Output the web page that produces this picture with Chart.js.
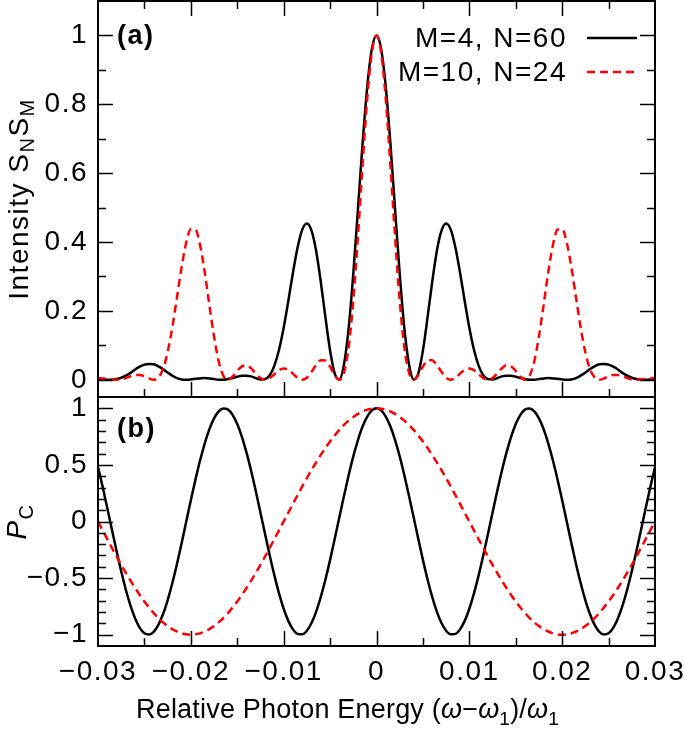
<!DOCTYPE html>
<html>
<head>
<meta charset="utf-8">
<script src="https://cdn.jsdelivr.net/npm/chart.js@4.4.1/dist/chart.umd.min.js"></script>
<style>
html,body{margin:0;padding:0;background:#fff;}
#wrap{width:685px;height:729px;position:relative;}
canvas{display:block;}
</style>
</head>
<body>
<div id="wrap"><canvas id="c" width="685" height="729"></canvas></div>
<script>
// ---------------- data ----------------
const energy = [
-0.0300,-0.0295,-0.0290,-0.0285,-0.0280,-0.0275,-0.0270,-0.0265,-0.0260,-0.0255,
-0.0250,-0.0245,-0.0240,-0.0235,-0.0230,-0.0225,-0.0220,-0.0215,-0.0210,-0.0205,
-0.0200,-0.0195,-0.0190,-0.0185,-0.0180,-0.0175,-0.0170,-0.0165,-0.0160,-0.0155,
-0.0150,-0.0145,-0.0140,-0.0135,-0.0130,-0.0125,-0.0120,-0.0115,-0.0110,-0.0105,
-0.0100,-0.0095,-0.0090,-0.0085,-0.0080,-0.0075,-0.0070,-0.0065,-0.0060,-0.0055,
-0.0050,-0.0045,-0.0040,-0.0035,-0.0030,-0.0025,-0.0020,-0.0015,-0.0010,-0.0005,
0,
0.0005,0.0010,0.0015,0.0020,0.0025,0.0030,0.0035,0.0040,0.0045,0.0050,
0.0055,0.0060,0.0065,0.0070,0.0075,0.0080,0.0085,0.0090,0.0095,0.0100,
0.0105,0.0110,0.0115,0.0120,0.0125,0.0130,0.0135,0.0140,0.0145,0.0150,
0.0155,0.0160,0.0165,0.0170,0.0175,0.0180,0.0185,0.0190,0.0195,0.0200,
0.0205,0.0210,0.0215,0.0220,0.0225,0.0230,0.0235,0.0240,0.0245,0.0250,
0.0255,0.0260,0.0265,0.0270,0.0275,0.0280,0.0285,0.0290,0.0295,0.0300];

// panel (a): intensity S_N S_M
const intensityM4N60 = [
0.003,0.001,0.000,0.000,0.002,0.006,0.012,0.020,0.030,0.038,
0.044,0.046,0.045,0.039,0.031,0.021,0.012,0.005,0.001,0.000,
0.001,0.003,0.004,0.005,0.004,0.002,0.000,0.000,0.002,0.005,
0.009,0.012,0.012,0.010,0.005,0.001,0.002,0.013,0.041,0.087,
0.151,0.229,0.311,0.384,0.436,0.454,0.433,0.374,0.284,0.181,
0.085,0.018,0.001,0.045,0.150,0.308,0.495,0.686,0.850,0.961,
1.000,
0.961,0.850,0.686,0.495,0.308,0.150,0.045,0.001,0.018,0.085,
0.181,0.284,0.374,0.433,0.454,0.436,0.384,0.311,0.229,0.151,
0.087,0.041,0.013,0.002,0.001,0.005,0.010,0.012,0.012,0.009,
0.005,0.002,0.000,0.000,0.002,0.004,0.005,0.004,0.003,0.001,
0.000,0.001,0.005,0.012,0.021,0.031,0.039,0.045,0.046,0.044,
0.038,0.030,0.020,0.012,0.006,0.002,0.000,0.000,0.001,0.003];

const intensityM10N24 = [
0.005,0.004,0.003,0.001,0.000,0.001,0.005,0.010,0.014,0.014,
0.010,0.004,0.000,0.007,0.031,0.080,0.151,0.238,0.326,0.398,
0.438,0.436,0.391,0.312,0.217,0.126,0.054,0.012,0.000,0.009,
0.026,0.039,0.042,0.033,0.018,0.005,0.000,0.005,0.016,0.028,
0.033,0.029,0.018,0.005,0.000,0.006,0.023,0.043,0.057,0.056,
0.038,0.013,0.000,0.021,0.095,0.230,0.416,0.624,0.816,0.951,
1.000,
0.951,0.816,0.624,0.416,0.230,0.095,0.021,0.000,0.013,0.038,
0.056,0.057,0.043,0.023,0.006,0.000,0.005,0.018,0.029,0.033,
0.028,0.016,0.005,0.000,0.005,0.018,0.033,0.042,0.039,0.026,
0.009,0.000,0.012,0.054,0.126,0.217,0.312,0.391,0.436,0.438,
0.398,0.326,0.238,0.151,0.080,0.031,0.007,0.000,0.004,0.010,
0.014,0.014,0.010,0.005,0.001,0.000,0.001,0.003,0.004,0.005];

// panel (b): P_C
const pcM4N60 = [
0.482,0.306,0.119,-0.072,-0.261,-0.440,-0.603,-0.744,-0.857,-0.940,
-0.988,-0.999,-0.975,-0.914,-0.820,-0.696,-0.546,-0.377,-0.194,-0.003,
0.187,0.371,0.541,0.691,0.816,0.911,0.973,0.999,0.989,0.942,
0.861,0.748,0.608,0.446,0.267,0.078,-0.113,-0.300,-0.476,-0.635,
-0.771,-0.878,-0.953,-0.993,-0.997,-0.965,-0.897,-0.796,-0.666,-0.512,
-0.339,-0.153,0.038,0.227,0.409,0.576,0.720,0.839,0.927,0.982,
1.000,
0.982,0.927,0.839,0.720,0.576,0.409,0.227,0.038,-0.153,-0.339,
-0.512,-0.666,-0.796,-0.897,-0.965,-0.997,-0.993,-0.953,-0.878,-0.771,
-0.635,-0.476,-0.300,-0.113,0.078,0.267,0.446,0.608,0.748,0.861,
0.942,0.989,0.999,0.973,0.911,0.816,0.691,0.541,0.371,0.187,
-0.003,-0.194,-0.377,-0.546,-0.696,-0.820,-0.914,-0.975,-0.999,-0.988,
-0.940,-0.857,-0.744,-0.603,-0.440,-0.261,-0.072,0.119,0.306,0.482];

const pcM10N24 = [
0.000,-0.078,-0.156,-0.233,-0.309,-0.383,-0.454,-0.522,-0.588,-0.649,
-0.707,-0.760,-0.809,-0.853,-0.891,-0.924,-0.951,-0.972,-0.988,-0.997,
-1.000,-0.997,-0.988,-0.972,-0.951,-0.924,-0.891,-0.853,-0.809,-0.760,
-0.707,-0.649,-0.588,-0.522,-0.454,-0.383,-0.309,-0.233,-0.156,-0.078,
0.000,0.078,0.156,0.233,0.309,0.383,0.454,0.522,0.588,0.649,
0.707,0.760,0.809,0.853,0.891,0.924,0.951,0.972,0.988,0.997,
1.000,
0.997,0.988,0.972,0.951,0.924,0.891,0.853,0.809,0.760,0.707,
0.649,0.588,0.522,0.454,0.383,0.309,0.233,0.156,0.078,0.000,
-0.078,-0.156,-0.233,-0.309,-0.383,-0.454,-0.522,-0.588,-0.649,-0.707,
-0.760,-0.809,-0.853,-0.891,-0.924,-0.951,-0.972,-0.988,-0.997,-1.000,
-0.997,-0.988,-0.972,-0.951,-0.924,-0.891,-0.853,-0.809,-0.760,-0.707,
-0.649,-0.588,-0.522,-0.454,-0.383,-0.309,-0.233,-0.156,-0.078,0.000];

const seriesLabels = ['M=4, N=60', 'M=10, N=24'];
const xTickLabels = [-0.03, -0.02, -0.01, 0, 0.01, 0.02, 0.03];
const intensityTickLabels = [0, 0.2, 0.4, 0.6, 0.8, 1];
const pcTickLabels = [-1, -0.5, 0, 0.5, 1];
const panelLabels = ['(a)', '(b)'];

// ---------------- styling ----------------
const FONT = '"Liberation Sans", Arial, Helvetica, sans-serif';
const LS = '1.5px';
const FS = 28;
const LINE_W = 2.5;

function fmt(v){ return v === 0 ? '0' : (v < 0 ? '\u2212' : '') + String(Math.abs(v)); }
function labelFor(v, list){
  const m = list.find(t => Math.abs(t - v) < 1e-9);
  return m === undefined ? '' : fmt(m);
}
function pts(xs, ys){ return xs.map((x, i) => ({x: x, y: ys[i]})); }
// tick marks every `step` between the labelled ticks (labelled ones included)
function stepTicks(first, last, step){
  const out = [];
  const n = Math.round((last - first) / step);
  for (let i = 0; i <= n; i++) out.push({value: Math.round((first + i * step) * 1e6) / 1e6});
  return out;
}

function drawRich(ctx, segs, cx, y){
  let w = 0;
  for (const s of segs){ ctx.font = s.font; w += ctx.measureText(s.t).width; }
  let x = cx - w / 2;
  ctx.textAlign = 'left';
  ctx.textBaseline = 'alphabetic';
  for (const s of segs){ ctx.font = s.font; ctx.fillText(s.t, x, y + (s.dy || 0)); x += ctx.measureText(s.t).width; }
}

const mainF = `${FS}px ${FONT}`;
const subF = `20px ${FONT}`;
const italF = `italic ${FS}px ${FONT}`;
const boldF = `bold 27px ${FONT}`;
const xMainF = `27px ${FONT}`;
const xItalF = `italic 27px ${FONT}`;
const xSubF = `19px ${FONT}`;

const decor = {
  id: 'decor',
  beforeDraw(chart){ chart.ctx.letterSpacing = LS; },
  afterDraw(chart){
    const {ctx, chartArea: ca, scales} = chart;
    const xs = scales.x, ya = scales.yA, yb = scales.yB;
    ctx.save();
    ctx.letterSpacing = LS;
    ctx.fillStyle = '#000';
    ctx.strokeStyle = '#000';

    // tick marks (inward)
    ctx.lineWidth = 1.5;
    ctx.beginPath();
    for (const t of xs.ticks){
      const v = t.value;
      if (v <= xs.min + 1e-9 || v >= xs.max - 1e-9) continue;
      const px = Math.round(xs.getPixelForValue(v)) + 0.5;
      const len = labelFor(v, xTickLabels) ? 15 : 8;
      ctx.moveTo(px, ya.top); ctx.lineTo(px, ya.top + len);
      ctx.moveTo(px, ya.bottom); ctx.lineTo(px, ya.bottom - len);
      ctx.moveTo(px, yb.bottom); ctx.lineTo(px, yb.bottom - len);
    }
    for (const [sc, labs] of [[ya, intensityTickLabels], [yb, pcTickLabels]]){
      for (const t of sc.ticks){
        const v = t.value;
        if (v <= sc.min + 1e-9 || v >= sc.max - 1e-9) continue;
        const py = Math.round(sc.getPixelForValue(v)) + 0.5;
        const len = labelFor(v, labs) ? 15 : 8;
        ctx.moveTo(ca.left, py); ctx.lineTo(ca.left + len, py);
        ctx.moveTo(ca.right, py); ctx.lineTo(ca.right - len, py);
      }
    }
    ctx.stroke();

    // frame
    ctx.lineWidth = 2;
    ctx.strokeRect(ca.left, ca.top, ca.right - ca.left, ca.bottom - ca.top);
    ctx.beginPath();
    ctx.moveTo(ca.left, ya.bottom); ctx.lineTo(ca.right, ya.bottom);
    ctx.stroke();

    // panel labels
    ctx.font = boldF;
    ctx.textAlign = 'left';
    ctx.textBaseline = 'middle';
    ctx.fillText(panelLabels[0], ca.left + 19, ya.getPixelForValue(1) + 1);
    ctx.fillText(panelLabels[1], ca.left + 19, yb.top + 33);

    // legend
    const ds = chart.data.datasets;
    const rows = [ca.top + 37, ca.top + 71];
    for (let i = 0; i < 2; i++){
      const d = ds.find(q => q.label === seriesLabels[i]);
      ctx.font = mainF;
      ctx.textAlign = 'right';
      ctx.textBaseline = 'middle';
      ctx.fillText(seriesLabels[i], ca.right - 88, rows[i] + 1);
      ctx.save();
      ctx.strokeStyle = d.borderColor;
      ctx.lineWidth = d.borderWidth;
      ctx.setLineDash(d.borderDash || []);
      ctx.beginPath();
      ctx.moveTo(ca.right - 68, rows[i]); ctx.lineTo(ca.right - 18, rows[i]);
      ctx.stroke();
      ctx.restore();
    }

    // x-axis title
    ctx.letterSpacing = '0.2px';
    drawRich(ctx, [
      {t: 'Relative Photon Energy (', font: xMainF},
      {t: '\u03C9', font: xItalF},
      {t: '\u2212', font: xMainF},
      {t: '\u03C9', font: xItalF},
      {t: '1', font: xSubF, dy: 7},
      {t: ')/', font: xMainF},
      {t: '\u03C9', font: xItalF},
      {t: '1', font: xSubF, dy: 7}
    ], (ca.left + ca.right) / 2 - 29, 718);
    ctx.letterSpacing = LS;

    // y-axis titles (rotated)
    ctx.save();
    ctx.translate(28, (ya.top + ya.bottom) / 2);
    ctx.rotate(-Math.PI / 2);
    drawRich(ctx, [
      {t: 'Intensity S', font: mainF},
      {t: 'N', font: subF, dy: 6},
      {t: 'S', font: mainF},
      {t: 'M', font: subF, dy: 6}
    ], 0, 0);
    ctx.restore();

    ctx.save();
    ctx.translate(26, (yb.top + yb.bottom) / 2);
    ctx.rotate(-Math.PI / 2);
    drawRich(ctx, [
      {t: 'P', font: italF},
      {t: 'C', font: subF, dy: 7}
    ], 0, 0);
    ctx.restore();

    ctx.restore();
  }
};

const tickFont = {family: FONT, size: FS};
const commonY = {
  type: 'linear',
  position: 'left',
  stack: 'panels',
  offset: false,
  grid: {display: false, drawTicks: false},
  border: {display: false},
  afterFit(s){ s.width = 98; s.paddingTop = 0; s.paddingBottom = 0; }
};

new Chart(document.getElementById('c'), {
  type: 'line',
  data: {
    datasets: [
      {label: seriesLabels[0], data: pts(energy, intensityM4N60), yAxisID: 'yA',
       borderColor: '#000000', borderWidth: LINE_W, order: 2},
      {label: seriesLabels[1], data: pts(energy, intensityM10N24), yAxisID: 'yA',
       borderColor: '#ff0000', borderWidth: LINE_W, borderDash: [8, 5], order: 1},
      {label: seriesLabels[0] + ' PC', data: pts(energy, pcM4N60), yAxisID: 'yB',
       borderColor: '#000000', borderWidth: LINE_W, order: 2},
      {label: seriesLabels[1] + ' PC', data: pts(energy, pcM10N24), yAxisID: 'yB',
       borderColor: '#ff0000', borderWidth: LINE_W, borderDash: [8, 5], order: 1}
    ]
  },
  options: {
    responsive: false,
    animation: false,
    devicePixelRatio: 1,
    layout: {padding: {top: 1, right: 30, left: 0, bottom: 0}},
    elements: {
      point: {radius: 0, hoverRadius: 0},
      line: {cubicInterpolationMode: 'monotone', fill: false}
    },
    plugins: {legend: {display: false}, tooltip: {enabled: false}},
    scales: {
      x: {
        type: 'linear', min: -0.03, max: 0.03,
        grid: {display: false, drawTicks: false},
        border: {display: false},
        afterBuildTicks(s){ s.ticks = stepTicks(xTickLabels[0], xTickLabels[xTickLabels.length - 1], 0.005); },
        afterFit(s){ s.height = 83; s.paddingLeft = 0; s.paddingRight = 0; },
        ticks: {autoSkip: false, maxRotation: 0, padding: 9,
                color: '#000', font: tickFont,
                callback: v => labelFor(v, xTickLabels)}
      },
      yB: Object.assign({}, commonY, {
        stackWeight: 249, min: -1.1, max: 1.1,
        afterBuildTicks(s){ s.ticks = stepTicks(pcTickLabels[0], pcTickLabels[pcTickLabels.length - 1], 0.1); },
        ticks: {autoSkip: false, padding: 10, color: '#000', font: tickFont,
                callback: v => labelFor(v, pcTickLabels)}
      }),
      yA: Object.assign({}, commonY, {
        stackWeight: 396, min: -0.05, max: 1.1,
        afterBuildTicks(s){ s.ticks = stepTicks(intensityTickLabels[0], intensityTickLabels[intensityTickLabels.length - 1], 0.1); },
        ticks: {autoSkip: false, padding: 10, color: '#000', font: tickFont,
                callback: v => labelFor(v, intensityTickLabels)}
      })
    }
  },
  plugins: [decor]
});
</script>
</body>
</html>
